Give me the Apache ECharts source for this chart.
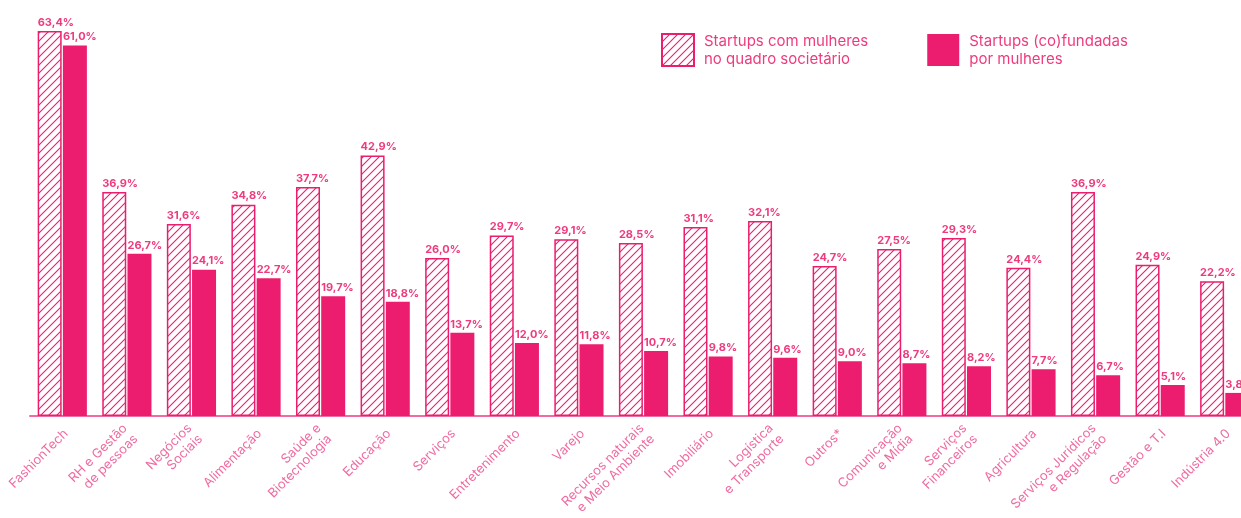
<!DOCTYPE html>
<html>
<head>
<meta charset="utf-8">
<script src="https://cdn.jsdelivr.net/npm/echarts@6/dist/echarts.min.js"></script>
<style>
html,body{margin:0;padding:0;background:#fff;}
#wrap{position:relative;width:1241px;height:518px;overflow:hidden;}
#chart{position:absolute;left:0;top:0;width:1262px;height:518px;}
</style>
</head>
<body>
<div id="wrap"><div id="chart"></div></div>
<script>
const categories = ["FashionTech", "RH e Gestão\nde pessoas", "Negócios\nSociais", "Alimentação", "Saúde e\nBiotecnologia", "Educação", "Serviços", "Entretenimento", "Varejo", "Recursos naturais\ne Meio Ambiente", "Imobiliário", "Logística\ne Transporte", "Outros*", "Comunicação\ne Mídia", "Serviços\nFinanceiros", "Agricultura", "Serviços Jurídicos\ne Regulação", "Gestão e T.I", "Indústria 4.0"];
const withWomen = [63.4, 36.9, 31.6, 34.8, 37.7, 42.9, 26.0, 29.7, 29.1, 28.5, 31.1, 32.1, 24.7, 27.5, 29.3, 24.4, 36.9, 24.9, 22.2];
const foundedByWomen = [61.0, 26.7, 24.1, 22.7, 19.7, 18.8, 13.7, 12.0, 11.8, 10.7, 9.8, 9.6, 9.0, 8.7, 8.2, 7.7, 6.7, 5.1, 3.8];
const seriesNames = ["Startups com mulheres\nno quadro societário", "Startups (co)fundadas\npor mulheres"];

const PINK = '#ec1c6e';
const LABEL_PINK = '#f06ba1';
const VALUE_PINK = '#ee3b7e';
const FONT = 'Inter, "Noto Sans", sans-serif';

const pc = document.createElement('canvas');
pc.width = 8; pc.height = 8;
const ctx = pc.getContext('2d');
ctx.fillStyle = '#fff';
ctx.fillRect(0, 0, 8, 8);
ctx.strokeStyle = PINK;
ctx.lineWidth = 1.1;
ctx.beginPath();
ctx.moveTo(-1, 9); ctx.lineTo(9, -1);
ctx.moveTo(-1, 1); ctx.lineTo(1, -1);
ctx.moveTo(7, 9); ctx.lineTo(9, 7);
ctx.stroke();

const fmt = p => p.value.toFixed(1).replace('.', ',') + '%';
const valueLabel = {show: true, position: 'top', distance: 3, align: 'left', offset: [-12, 0], color: VALUE_PINK, fontWeight: 'bold', fontSize: 11, formatter: fmt, fontFamily: FONT};

const chart = echarts.init(document.getElementById('chart'), null, {renderer: 'canvas'});
chart.setOption({
  animation: false,
  backgroundColor: '#fff',
  textStyle: {fontFamily: FONT},
  grid: {left: 30, right: 5, top: 3, bottom: 102, containLabel: false, outerBoundsMode: 'none'},
  legend: {
    left: 656, top: 27,
    itemWidth: 32, itemHeight: 32,
    itemGap: 59,
    icon: 'rect',
    textStyle: {color: VALUE_PINK, fontSize: 15, lineHeight: 18, fontFamily: FONT, padding: [0, 0, 0, 5]},
    data: seriesNames
  },
  xAxis: {
    type: 'category',
    data: categories,
    axisLine: {show: true, lineStyle: {color: LABEL_PINK, width: 2}},
    axisTick: {show: false},
    axisLabel: {interval: 0, rotate: 45, color: LABEL_PINK, fontSize: 13, lineHeight: 15, margin: 19, padding: [0, -5, 0, 0], fontFamily: FONT}
  },
  yAxis: {
    type: 'value', min: 0, max: 68,
    show: false,
    splitLine: {show: false}
  },
  series: [
    {
      name: seriesNames[0], type: 'bar', data: withWomen,
      barWidth: 24, barGap: '5%',
      itemStyle: {color: {image: pc, repeat: 'repeat'}, borderColor: PINK, borderWidth: 1.5},
      label: valueLabel
    },
    {
      name: seriesNames[1], type: 'bar', data: foundedByWomen,
      barWidth: 24,
      itemStyle: {color: PINK},
      label: valueLabel
    }
  ]
});
</script>
</body>
</html>
